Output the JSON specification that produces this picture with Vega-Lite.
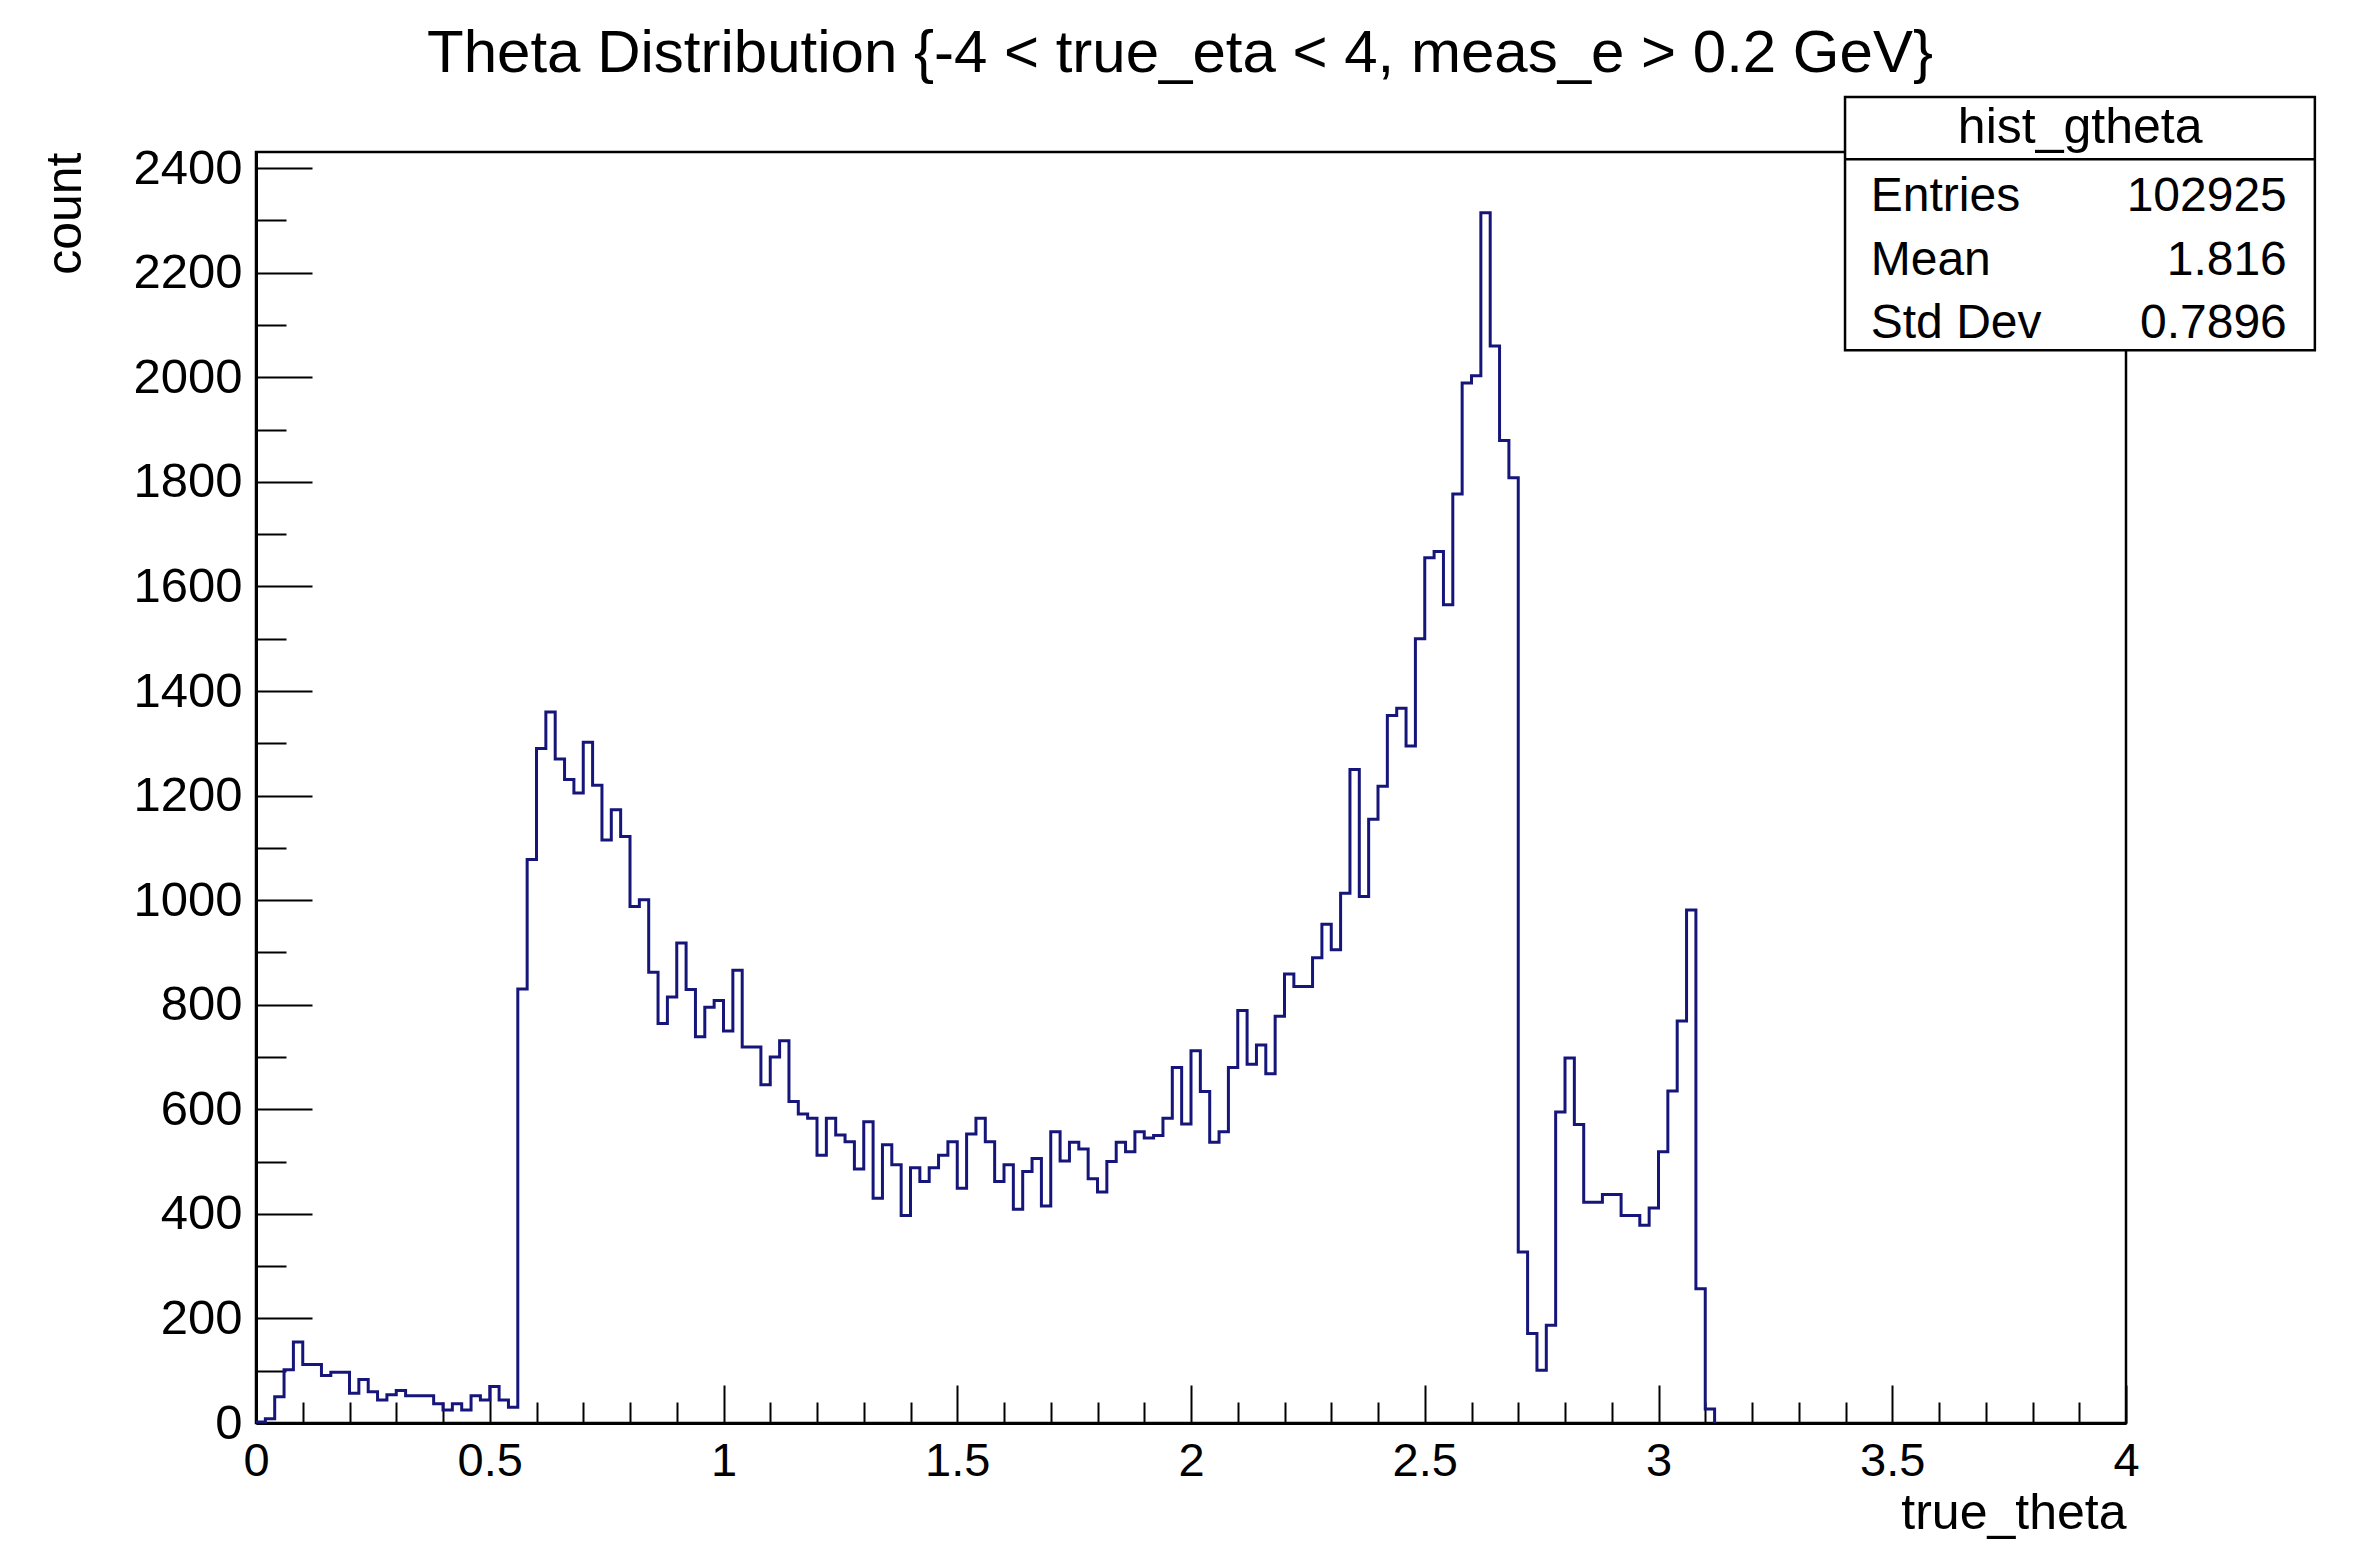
{
  "$schema": "https://vega.github.io/schema/vega-lite/v6.json",
  "autosize": "none",
  "width": 1870,
  "height": 1271,
  "padding": {"left": 256, "top": 152, "right": 235, "bottom": 119},
  "background": "white",
  "title": {
    "text": "Theta Distribution {-4 < true_eta < 4, meas_e > 0.2 GeV}",
    "font": "Liberation Sans",
    "fontSize": 60,
    "fontWeight": "normal",
    "color": "black",
    "anchor": "middle",
    "frame": "group",
    "dx": -11,
    "offset": -36,
    "baseline": "alphabetic"
  },
  "config": {
    "font": "Liberation Sans",
    "view": {"stroke": "black", "strokeWidth": 2.5},
    "axis": {
      "zindex": 1,
      "grid": false,
      "domainColor": "black",
      "domainWidth": 3,
      "tickColor": "black",
      "tickWidth": 2,
      "labelFont": "Liberation Sans",
      "labelColor": "black",
      "labelFlush": false,
      "labelOverlap": false,
      "labelBound": false,
      "titleFont": "Liberation Sans",
      "titleFontWeight": "normal",
      "titleColor": "black"
    }
  },
  "datasets": {
    "hist": [
      {"theta": 0, "count": 2}, {"theta": 0.02, "count": 8}, {"theta": 0.04, "count": 50}, {"theta": 0.06, "count": 102},
      {"theta": 0.08, "count": 155}, {"theta": 0.1, "count": 112}, {"theta": 0.12, "count": 112}, {"theta": 0.14, "count": 91},
      {"theta": 0.16, "count": 97}, {"theta": 0.18, "count": 97}, {"theta": 0.2, "count": 57}, {"theta": 0.22, "count": 83},
      {"theta": 0.24, "count": 60}, {"theta": 0.26, "count": 44}, {"theta": 0.28, "count": 54}, {"theta": 0.3, "count": 62},
      {"theta": 0.32, "count": 52}, {"theta": 0.34, "count": 52}, {"theta": 0.36, "count": 52}, {"theta": 0.38, "count": 37},
      {"theta": 0.4, "count": 25}, {"theta": 0.42, "count": 37}, {"theta": 0.44, "count": 25}, {"theta": 0.46, "count": 52},
      {"theta": 0.48, "count": 44}, {"theta": 0.5, "count": 70}, {"theta": 0.52, "count": 44}, {"theta": 0.54, "count": 30},
      {"theta": 0.56, "count": 830}, {"theta": 0.58, "count": 1078}, {"theta": 0.6, "count": 1290}, {"theta": 0.62, "count": 1360},
      {"theta": 0.64, "count": 1270}, {"theta": 0.66, "count": 1231}, {"theta": 0.68, "count": 1205}, {"theta": 0.7, "count": 1302},
      {"theta": 0.72, "count": 1220}, {"theta": 0.74, "count": 1115}, {"theta": 0.76, "count": 1173}, {"theta": 0.78, "count": 1122},
      {"theta": 0.8, "count": 988}, {"theta": 0.82, "count": 1001}, {"theta": 0.84, "count": 862}, {"theta": 0.86, "count": 764},
      {"theta": 0.88, "count": 815}, {"theta": 0.9, "count": 918}, {"theta": 0.92, "count": 829}, {"theta": 0.94, "count": 739},
      {"theta": 0.96, "count": 795}, {"theta": 0.98, "count": 808}, {"theta": 1, "count": 750}, {"theta": 1.02, "count": 866},
      {"theta": 1.04, "count": 719}, {"theta": 1.06, "count": 719}, {"theta": 1.08, "count": 647}, {"theta": 1.1, "count": 700},
      {"theta": 1.12, "count": 731}, {"theta": 1.14, "count": 615}, {"theta": 1.16, "count": 591}, {"theta": 1.18, "count": 583},
      {"theta": 1.2, "count": 512}, {"theta": 1.22, "count": 583}, {"theta": 1.24, "count": 551}, {"theta": 1.26, "count": 538},
      {"theta": 1.28, "count": 486}, {"theta": 1.3, "count": 576}, {"theta": 1.32, "count": 430}, {"theta": 1.34, "count": 532},
      {"theta": 1.36, "count": 494}, {"theta": 1.38, "count": 397}, {"theta": 1.4, "count": 488}, {"theta": 1.42, "count": 462},
      {"theta": 1.44, "count": 488}, {"theta": 1.46, "count": 512}, {"theta": 1.48, "count": 538}, {"theta": 1.5, "count": 449},
      {"theta": 1.52, "count": 553}, {"theta": 1.54, "count": 583}, {"theta": 1.56, "count": 538}, {"theta": 1.58, "count": 462},
      {"theta": 1.6, "count": 494}, {"theta": 1.62, "count": 409}, {"theta": 1.64, "count": 481}, {"theta": 1.66, "count": 506},
      {"theta": 1.68, "count": 415}, {"theta": 1.7, "count": 557}, {"theta": 1.72, "count": 501}, {"theta": 1.74, "count": 537},
      {"theta": 1.76, "count": 524}, {"theta": 1.78, "count": 467}, {"theta": 1.8, "count": 442}, {"theta": 1.82, "count": 500},
      {"theta": 1.84, "count": 537}, {"theta": 1.86, "count": 519}, {"theta": 1.88, "count": 557}, {"theta": 1.9, "count": 545},
      {"theta": 1.92, "count": 550}, {"theta": 1.94, "count": 583}, {"theta": 1.96, "count": 680}, {"theta": 1.98, "count": 572},
      {"theta": 2, "count": 712}, {"theta": 2.02, "count": 634}, {"theta": 2.04, "count": 537}, {"theta": 2.06, "count": 557},
      {"theta": 2.08, "count": 680}, {"theta": 2.1, "count": 789}, {"theta": 2.12, "count": 686}, {"theta": 2.14, "count": 723},
      {"theta": 2.16, "count": 668}, {"theta": 2.18, "count": 778}, {"theta": 2.2, "count": 859}, {"theta": 2.22, "count": 835},
      {"theta": 2.24, "count": 835}, {"theta": 2.26, "count": 890}, {"theta": 2.28, "count": 954}, {"theta": 2.3, "count": 905},
      {"theta": 2.32, "count": 1013}, {"theta": 2.34, "count": 1250}, {"theta": 2.36, "count": 1007}, {"theta": 2.38, "count": 1155},
      {"theta": 2.4, "count": 1218}, {"theta": 2.42, "count": 1353}, {"theta": 2.44, "count": 1367}, {"theta": 2.46, "count": 1295},
      {"theta": 2.48, "count": 1500}, {"theta": 2.5, "count": 1655}, {"theta": 2.52, "count": 1667}, {"theta": 2.54, "count": 1565},
      {"theta": 2.56, "count": 1777}, {"theta": 2.58, "count": 1989}, {"theta": 2.6, "count": 2003}, {"theta": 2.62, "count": 2315},
      {"theta": 2.64, "count": 2060}, {"theta": 2.66, "count": 1879}, {"theta": 2.68, "count": 1808}, {"theta": 2.7, "count": 327},
      {"theta": 2.72, "count": 171}, {"theta": 2.74, "count": 101}, {"theta": 2.76, "count": 187}, {"theta": 2.78, "count": 595},
      {"theta": 2.8, "count": 698}, {"theta": 2.82, "count": 571}, {"theta": 2.84, "count": 422}, {"theta": 2.86, "count": 422},
      {"theta": 2.88, "count": 437}, {"theta": 2.9, "count": 437}, {"theta": 2.92, "count": 397}, {"theta": 2.94, "count": 397},
      {"theta": 2.96, "count": 378}, {"theta": 2.98, "count": 411}, {"theta": 3, "count": 519}, {"theta": 3.02, "count": 635},
      {"theta": 3.04, "count": 769}, {"theta": 3.06, "count": 981}, {"theta": 3.08, "count": 257}, {"theta": 3.1, "count": 27},
      {"theta": 3.12, "count": 0}, {"theta": 3.14, "count": 0}, {"theta": 3.16, "count": 0}, {"theta": 3.18, "count": 0},
      {"theta": 3.2, "count": 0}, {"theta": 3.22, "count": 0}, {"theta": 3.24, "count": 0}, {"theta": 3.26, "count": 0},
      {"theta": 3.28, "count": 0}, {"theta": 3.3, "count": 0}, {"theta": 3.32, "count": 0}, {"theta": 3.34, "count": 0},
      {"theta": 3.36, "count": 0}, {"theta": 3.38, "count": 0}, {"theta": 3.4, "count": 0}, {"theta": 3.42, "count": 0},
      {"theta": 3.44, "count": 0}, {"theta": 3.46, "count": 0}, {"theta": 3.48, "count": 0}, {"theta": 3.5, "count": 0},
      {"theta": 3.52, "count": 0}, {"theta": 3.54, "count": 0}, {"theta": 3.56, "count": 0}, {"theta": 3.58, "count": 0},
      {"theta": 3.6, "count": 0}, {"theta": 3.62, "count": 0}, {"theta": 3.64, "count": 0}, {"theta": 3.66, "count": 0},
      {"theta": 3.68, "count": 0}, {"theta": 3.7, "count": 0}, {"theta": 3.72, "count": 0}, {"theta": 3.74, "count": 0},
      {"theta": 3.76, "count": 0}, {"theta": 3.78, "count": 0}, {"theta": 3.8, "count": 0}, {"theta": 3.82, "count": 0},
      {"theta": 3.84, "count": 0}, {"theta": 3.86, "count": 0}, {"theta": 3.88, "count": 0}, {"theta": 3.9, "count": 0},
      {"theta": 3.92, "count": 0}, {"theta": 3.94, "count": 0}, {"theta": 3.96, "count": 0}, {"theta": 3.98, "count": 0}
    ],
    "box": [{"name": "hist_gtheta"}],
    "stats": [
      {"stat": "Entries", "value": "102925"},
      {"stat": "Mean", "value": "1.816"},
      {"stat": "Std Dev", "value": "0.7896"}
    ]
  },
  "layer": [
    {
      "data": {"name": "hist"},
      "transform": [{"filter": "datum.theta <= 3.121"}],
      "mark": {"type": "line", "interpolate": "step-after", "color": "#16167a", "strokeWidth": 3},
      "encoding": {
        "x": {
          "field": "theta",
          "type": "quantitative",
          "scale": {"domain": [0, 4], "nice": false, "zero": false},
          "axis": {
            "title": "true_theta",
            "titleAnchor": "end",
            "titleFontSize": 50,
            "titleBaseline": "alphabetic",
            "titlePadding": 27,
            "values": [0, 0.1, 0.2, 0.3, 0.4, 0.5, 0.6, 0.7, 0.8, 0.9, 1, 1.1, 1.2, 1.3, 1.4, 1.5, 1.6, 1.7, 1.8, 1.9, 2, 2.1, 2.2, 2.3, 2.4, 2.5, 2.6, 2.7, 2.8, 2.9, 3, 3.1, 3.2, 3.3, 3.4, 3.5, 3.6, 3.7, 3.8, 3.9, 4],
            "format": "~g",
            "labelExpr": "round(datum.value * 10) % 5 == 0 ? datum.label : ''",
            "labelFontSize": 47,
            "labelBaseline": "alphabetic",
            "labelPadding": 90,
            "tickSize": {"condition": {"test": "round(datum.value * 10) % 5 == 0", "value": -38}, "value": -21}
          }
        },
        "y": {
          "field": "count",
          "type": "quantitative",
          "scale": {"domain": [0, 2431], "nice": false},
          "axis": {
            "title": "count",
            "titleAnchor": "end",
            "titleFontSize": 50,
            "titleBaseline": "alphabetic",
            "titlePadding": 52,
            "values": [0, 50, 100, 150, 200, 250, 300, 350, 400, 450, 500, 550, 600, 650, 700, 750, 800, 850, 900, 950, 1000, 1050, 1100, 1150, 1200, 1250, 1300, 1350, 1400, 1450, 1500, 1550, 1600, 1650, 1700, 1750, 1800, 1850, 1900, 1950, 2000, 2050, 2100, 2150, 2200, 2250, 2300, 2350, 2400],
            "format": "d",
            "labelExpr": "datum.value % 200 == 0 ? datum.label : ''",
            "labelFontSize": 49,
            "labelPadding": 70,
            "tickSize": {"condition": {"test": "datum.value % 200 == 0", "value": -56}, "value": -30}
          }
        }
      }
    },
    {
      "data": {"name": "box"},
      "mark": {"type": "rect", "fill": "white", "stroke": "black", "strokeWidth": 2.5},
      "encoding": {
        "x": {"datum": 3.399, "type": "quantitative"},
        "x2": {"datum": 4.404},
        "y": {"datum": 2536, "type": "quantitative"},
        "y2": {"datum": 2052}
      }
    },
    {
      "data": {"name": "box"},
      "mark": {"type": "rule", "color": "black", "strokeWidth": 2.5},
      "encoding": {
        "x": {"datum": 3.399, "type": "quantitative"},
        "x2": {"datum": 4.404},
        "y": {"datum": 2417, "type": "quantitative"}
      }
    },
    {
      "data": {"name": "box"},
      "mark": {"type": "text", "font": "Liberation Sans", "fontSize": 50, "color": "black", "align": "center", "baseline": "alphabetic"},
      "encoding": {
        "x": {"datum": 3.902, "type": "quantitative"},
        "y": {"datum": 2448, "type": "quantitative"},
        "text": {"field": "name"}
      }
    },
    {
      "data": {"name": "stats"},
      "transform": [{"filter": "datum.stat == 'Entries'"}],
      "mark": {"type": "text", "font": "Liberation Sans", "fontSize": 48, "color": "black", "align": "left", "baseline": "alphabetic"},
      "encoding": {
        "x": {"datum": 3.454, "type": "quantitative"},
        "y": {"datum": 2319, "type": "quantitative"},
        "text": {"field": "stat"}
      }
    },
    {
      "data": {"name": "stats"},
      "transform": [{"filter": "datum.stat == 'Mean'"}],
      "mark": {"type": "text", "font": "Liberation Sans", "fontSize": 48, "color": "black", "align": "left", "baseline": "alphabetic"},
      "encoding": {
        "x": {"datum": 3.454, "type": "quantitative"},
        "y": {"datum": 2196, "type": "quantitative"},
        "text": {"field": "stat"}
      }
    },
    {
      "data": {"name": "stats"},
      "transform": [{"filter": "datum.stat == 'Std Dev'"}],
      "mark": {"type": "text", "font": "Liberation Sans", "fontSize": 48, "color": "black", "align": "left", "baseline": "alphabetic"},
      "encoding": {
        "x": {"datum": 3.454, "type": "quantitative"},
        "y": {"datum": 2075, "type": "quantitative"},
        "text": {"field": "stat"}
      }
    },
    {
      "data": {"name": "stats"},
      "transform": [{"filter": "datum.stat == 'Entries'"}],
      "mark": {"type": "text", "font": "Liberation Sans", "fontSize": 48, "color": "black", "align": "right", "baseline": "alphabetic"},
      "encoding": {
        "x": {"datum": 4.344, "type": "quantitative"},
        "y": {"datum": 2319, "type": "quantitative"},
        "text": {"field": "value"}
      }
    },
    {
      "data": {"name": "stats"},
      "transform": [{"filter": "datum.stat == 'Mean'"}],
      "mark": {"type": "text", "font": "Liberation Sans", "fontSize": 48, "color": "black", "align": "right", "baseline": "alphabetic"},
      "encoding": {
        "x": {"datum": 4.344, "type": "quantitative"},
        "y": {"datum": 2196, "type": "quantitative"},
        "text": {"field": "value"}
      }
    },
    {
      "data": {"name": "stats"},
      "transform": [{"filter": "datum.stat == 'Std Dev'"}],
      "mark": {"type": "text", "font": "Liberation Sans", "fontSize": 48, "color": "black", "align": "right", "baseline": "alphabetic"},
      "encoding": {
        "x": {"datum": 4.344, "type": "quantitative"},
        "y": {"datum": 2075, "type": "quantitative"},
        "text": {"field": "value"}
      }
    }
  ]
}
